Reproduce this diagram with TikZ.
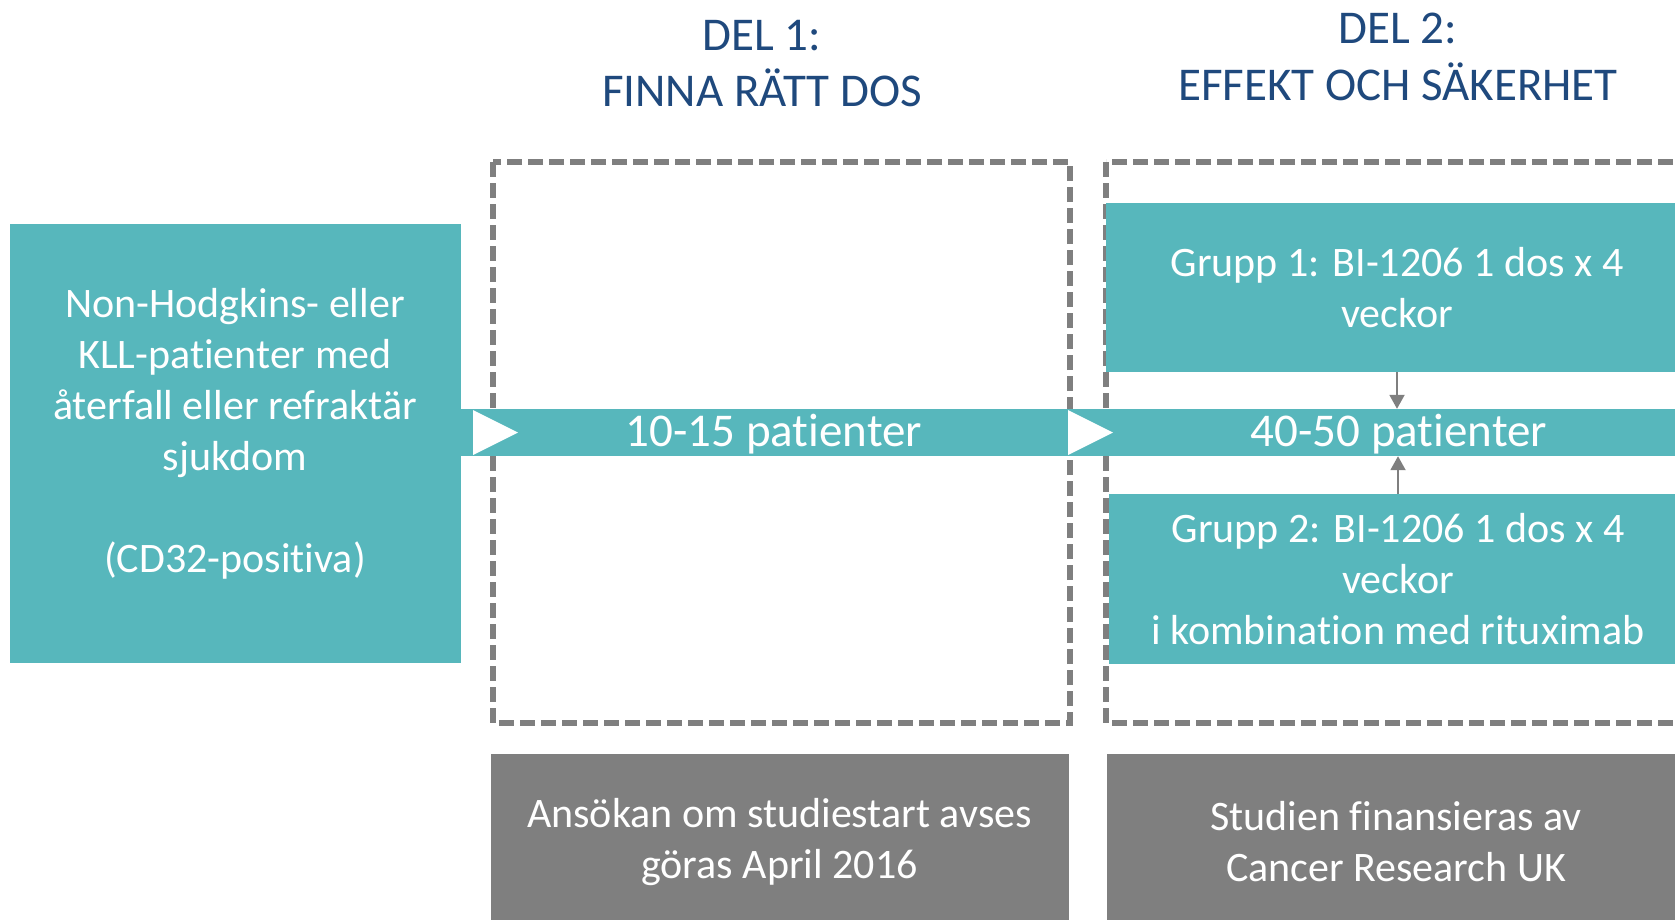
\documentclass[tikz,border=0pt]{standalone}
\usepackage{fontspec}
\setmainfont[Ligatures=NoCommon]{Carlito}
\usetikzlibrary{arrows.meta}
\definecolor{studyteal}{RGB}{87,183,188}
\definecolor{studygrey}{RGB}{127,127,127}
\definecolor{titleblue}{RGB}{31,73,125}

\begin{document}
\begin{tikzpicture}[x=1pt,y=-1pt,
    tealbox/.style={fill=studyteal,text=white,align=center,inner sep=0pt,
      font=\fontsize{42}{51}\selectfont},
    greybox/.style={fill=studygrey,text=white,align=center,inner sep=0pt,
      minimum width=578pt,minimum height=176pt,font=\fontsize{42}{51}\selectfont},
    phasebox/.style={draw=studygrey,line width=5.5pt,dash pattern=on 15pt off 6pt},
    titletext/.style={text=titleblue,align=center,font=\fontsize{47}{56.5}\selectfont},
    bandtext/.style={text=white,anchor=base,font=\fontsize{47}{56}\selectfont},
    grouparrow/.style={draw=studygrey,line width=2pt,-{Triangle[width=15pt,length=14pt]}}]
    \useasboundingbox (0,0) rectangle (1675,919);

    \node[titletext] (del1) at (762,63.7) {DEL 1:\\FINNA RÄTT DOS};
    \node[titletext] (del2) at (1398,56.7) {DEL 2:\\EFFEKT OCH SÄKERHET};

    \draw[phasebox] (493,162) rectangle (1070,723);
    \draw[phasebox] (1106,162) rectangle (1700,723);

    \node[fill=studyteal,minimum width=451pt,minimum height=439pt,inner sep=0pt]
          (patients) at (235.5,443.5) {};
    \node[tealbox] (patientstext) at (235,433.5)
          {Non-Hodgkins- eller\\KLL-patienter med\\återfall eller refraktär\\sjukdom\\[51pt](CD32-positiva)};

    % flow band
    \node[fill=studyteal,minimum width=1230pt,minimum height=47pt,inner sep=0pt]
          (band) at (1076,432.5) {};
    \foreach \x in {473,1068}
      \fill[white] (\x,410) -- ++(45,22.5) -- ++(-45,22.5) -- cycle;
    \node[bandtext] (dose) at (774,446) {10-15 patienter};
    \node[bandtext] (effect) at (1399,446) {40-50 patienter};

    \node[tealbox,minimum width=582pt,minimum height=169pt] (group1) at (1397,287.5)
          {Grupp 1: BI-1206 1 dos x 4\\veckor};
    \draw[grouparrow] (group1.south) -- (group1.south |- band.north);

    \node[tealbox,minimum width=579pt,minimum height=170pt] (group2) at (1398,578.7)
          {Grupp 2: BI-1206 1 dos x 4\\veckor\\i kombination med rituximab};
    \draw[grouparrow] (group2.north) -- (group2.north |- band.south);

    \node[greybox] (application) at (779.5,842) {Ansökan om studiestart avses\\göras April 2016};
    \node[greybox] (funding) at (1396,842) {Studien finansieras av\\Cancer Research UK};
\end{tikzpicture}
\end{document}
